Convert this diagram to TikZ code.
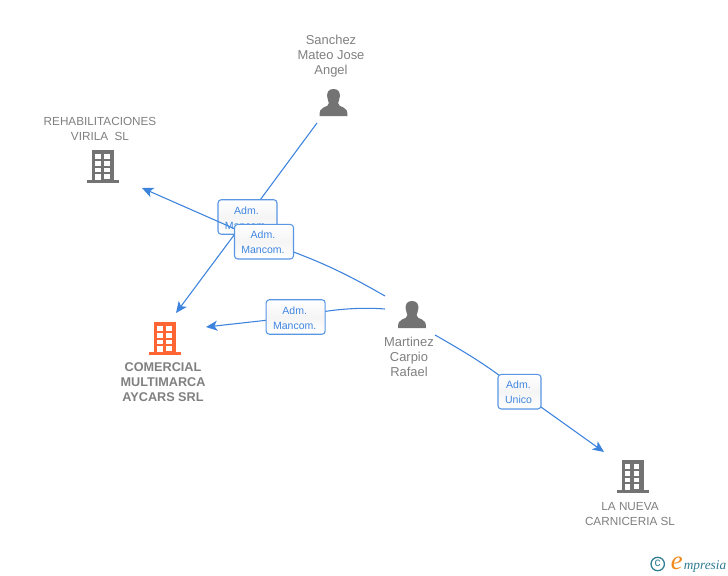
\documentclass[tikz,border=0pt]{standalone}
\usepackage{fontspec}
\setmainfont{Liberation Sans}
\newfontfamily\logofont{Liberation Serif}
\usetikzlibrary{arrows.meta}
\pgfdeclarelayer{backlayer}
\pgfdeclarelayer{lowerlayer}
\pgfdeclarelayer{middlelayer}
\pgfsetlayers{backlayer,lowerlayer,middlelayer,main}
\definecolor{linkblue}{HTML}{3C83DE}
\definecolor{labelblue}{HTML}{3F86E0}
\definecolor{icongrey}{HTML}{737373}
\definecolor{textgrey}{HTML}{808080}
\definecolor{brandorange}{HTML}{FF6633}
\definecolor{logoteal}{HTML}{2F7C92}
\definecolor{logoorange}{HTML}{F08A1D}
\tikzset{
  linkline/.style={draw=linkblue,line width=0.8pt},
  linkarrow/.style={linkline,-{Stealth[length=8.5pt,width=7.5pt,inset=2.2pt]}},
  rolebox/.style={draw=linkblue!85,line width=0.8pt,rounded corners=2.4pt,top color=white,bottom color=white,middle color=black!4,
    text=labelblue,font=\fontsize{7.9}{11.25}\selectfont,align=center,inner sep=0pt,
    minimum width=44.25pt,minimum height=25.9pt},
  caption/.style={text=textgrey,font=\fontsize{8.8}{11.25}\selectfont,align=center,inner sep=0pt},
  namecaption/.style={caption,font=\fontsize{9.7}{11.25}\selectfont},
  boldcaption/.style={text=textgrey,font=\fontsize{9.5}{11.25}\selectfont\bfseries,align=center,inner sep=0pt},
}
\newcommand{\roletext}[2]{\rule{0pt}{7.2pt}#1\hspace*{1.5pt}\\#2\hspace*{1.5pt}}
\newcommand{\buildingicon}[3]{%
  \begin{scope}[shift={(#1,#2)}]
    \fill[#3] (-11,-33) rectangle (11,-1);
    \fill[#3] (-16,-3) rectangle (16,0);
    \fill[white] (-7.6,-28.6) rectangle (-2.4,-23.8);
    \fill[white] (1.4,-28.6) rectangle (6.6,-23.8);
    \fill[white] (-7.6,-21.9) rectangle (-2.4,-17.4);
    \fill[white] (1.4,-21.9) rectangle (6.6,-17.4);
    \fill[white] (-7.6,-15.3) rectangle (-2.4,-11.4);
    \fill[white] (1.4,-15.3) rectangle (6.6,-11.4);
    \fill[white] (-7.6,-9) rectangle (-2.4,-3);
    \fill[white] (1.4,-9) rectangle (6.6,-4.4);
  \end{scope}}
\newcommand{\personicon}[2]{%
  \begin{scope}[shift={(#1,#2)}]
    \fill[icongrey] (0,0) .. controls (-5,0) and (-6.8,3.5) .. (-6.3,7.5)
      .. controls (-6,10.5) and (-5,12.5) .. (-4.6,14)
      .. controls (-4.6,16.5) and (-7,17.5) .. (-10,18.5)
      .. controls (-13,19.5) and (-14,22) .. (-14,27)
      -- (14,27)
      .. controls (14,22) and (13,19.5) .. (10,18.5)
      .. controls (7,17.5) and (4.6,16.5) .. (4.6,14)
      .. controls (5,12.5) and (6,10.5) .. (6.3,7.5)
      .. controls (6.8,3.5) and (5,0) .. (0,0) -- cycle;
  \end{scope}}
\begin{document}
\begin{tikzpicture}[x=0.75pt,y=-0.75pt]
\useasboundingbox (0,0) rectangle (728,575);

% icons
\buildingicon{103}{183}{icongrey}
\buildingicon{165}{355}{brandorange}
\buildingicon{632.5}{493}{icongrey}
\personicon{333.5}{89}
\personicon{412}{301}

% captions
\node[namecaption] (sanchez) at (331,56.5) {Sanchez\\Mateo Jose\\Angel};
\node[caption] (rehab) at (100,128.5) {REHABILITACIONES\\VIRILA\ \ SL};
\node[boldcaption] (comercial) at (163,382.5) {COMERCIAL\\MULTIMARCA\\AYCARS SRL};
\node[namecaption] (martinez) at (409,356.5) {Martinez\\Carpio\\Rafael};
\node[caption] (nueva) at (630,514.5) {LA NUEVA\\CARNICERIA SL};

% connector ends
\coordinate (sanchezout) at (317,123);
\coordinate (comercialin) at (176,313);
\coordinate (comercialinb) at (206,327);
\coordinate (rehabin) at (142,188);
\coordinate (martinezA) at (385,296);
\coordinate (martinezB) at (385,309);
\coordinate (martinezC) at (435,335);
\coordinate (nuevain) at (604,452);

% role boxes
\begin{pgfonlayer}{lowerlayer}
\node[rolebox] (roleA) at (247.5,217) {\roletext{Adm.}{Mancom.}};
\end{pgfonlayer}
\node[rolebox] (roleB) at (264,241.7) {\roletext{Adm.}{Mancom.}};
\node[rolebox] (roleC) at (295.7,317) {\roletext{Adm.}{Mancom.}};
\node[rolebox,minimum width=32.25pt] (roleD) at (519.5,391.7) {\roletext{Adm.}{Unico}};

% connectors
\begin{pgfonlayer}{backlayer}
\fill[white] (0,0) rectangle (728,575);
\draw[linkline] (sanchezout) -- (roleA.center);
\draw[linkarrow] (roleA.center) -- (comercialin);
\draw[linkline] (martinezB) .. controls (360,307) and (330,309) .. (roleC.center);
\draw[linkarrow] (roleC.center) -- (comercialinb);
\draw[linkline] (martinezC) .. controls (465,352) and (495,370) .. (roleD.center);
\draw[linkarrow] (roleD.center) -- (nuevain);
\end{pgfonlayer}
\begin{pgfonlayer}{middlelayer}
\draw[linkline] (martinezA) .. controls (350,276) and (320,260) .. (roleB.center);
\draw[linkarrow] (roleB.center) -- (rehabin);
\end{pgfonlayer}

% logo
\draw[logoteal,line width=0.95pt] (657.7,564) circle (6.7);
\node[text=logoteal,font=\fontsize{9}{9}\selectfont,inner sep=0pt] (logoc) at (657.7,563.6) {c};
\node[text=logoorange,font=\logofont\fontsize{20}{20}\selectfont\itshape,anchor=base east,inner sep=0pt] (logoe) at (683,569) {e};
\node[text=logoteal,font=\logofont\fontsize{10}{12}\selectfont\itshape,anchor=base west,inner sep=0pt] (logoname) at (683.5,569) {mpresia};
\end{tikzpicture}
\end{document}
